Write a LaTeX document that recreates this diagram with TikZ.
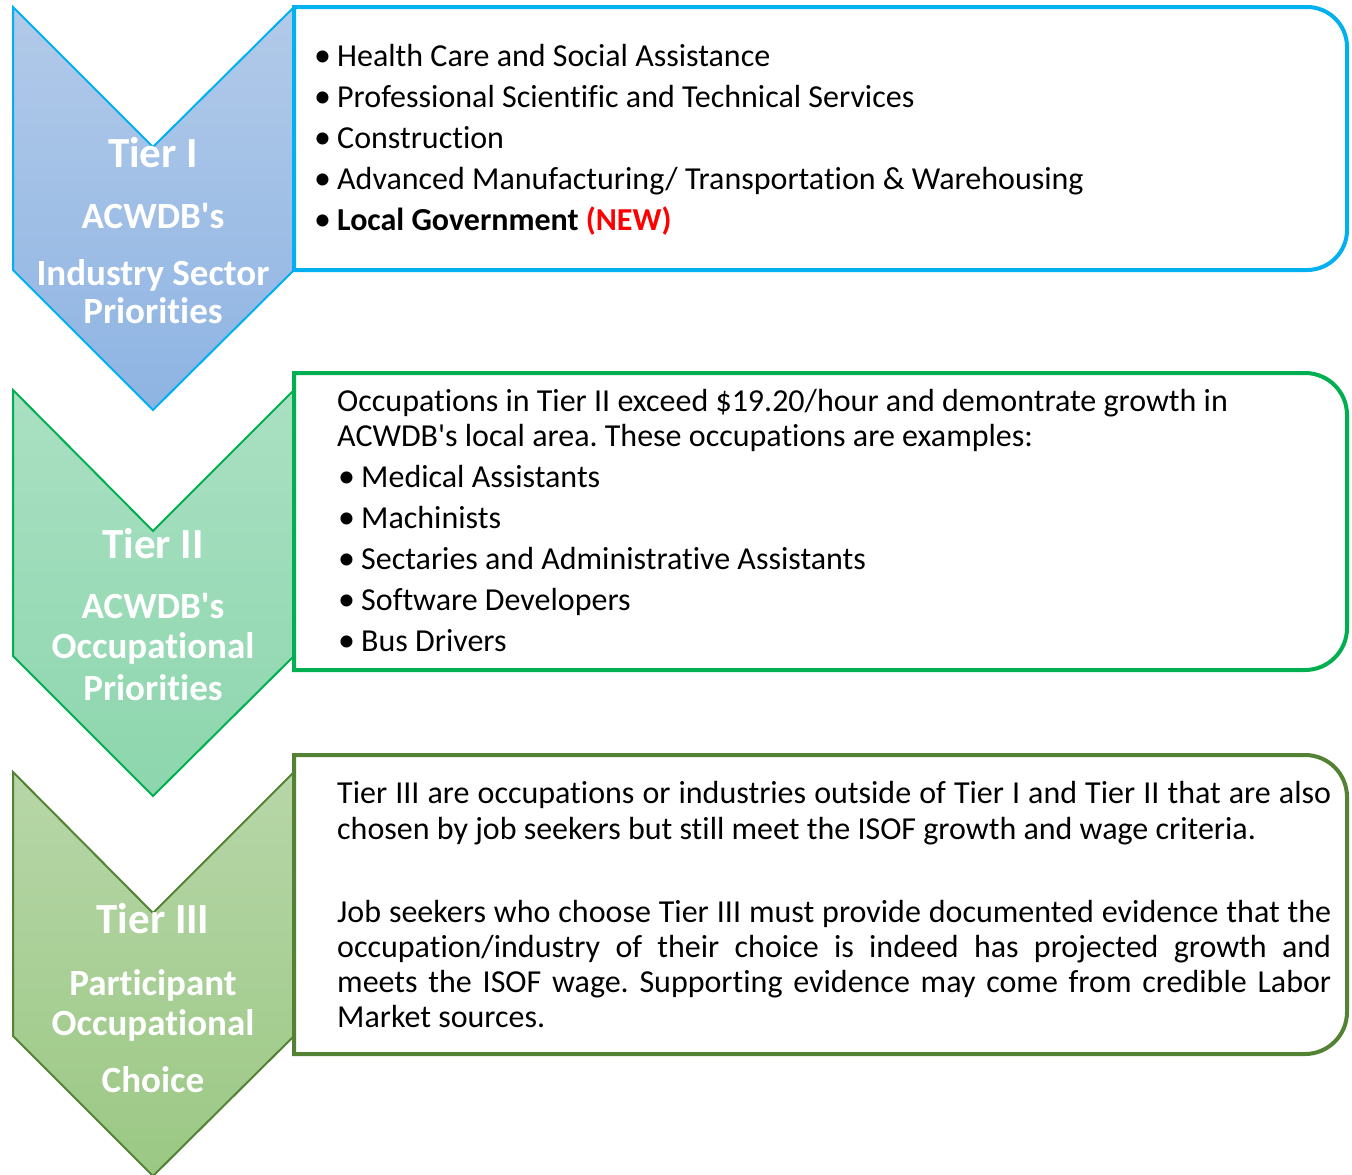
\documentclass[tikz,border=0pt]{standalone}
\usepackage{fontspec}
\setmainfont{Carlito}[Ligatures=NoCommon]

\definecolor{oneline}{HTML}{00B0F0}
\definecolor{onetop}{HTML}{B2CAE9}
\definecolor{onebottom}{HTML}{8EB4E3}
\definecolor{twoline}{HTML}{00B050}
\definecolor{twotop}{HTML}{AAE0C3}
\definecolor{twobottom}{HTML}{8CD6AD}
\definecolor{threeline}{HTML}{548235}
\definecolor{threetop}{HTML}{B7D6A8}
\definecolor{threebottom}{HTML}{9BC884}
\definecolor{newred}{HTML}{FF0000}

\newcommand{\bodyfont}{\fontsize{32}{38}\selectfont\frenchspacing}
\newcommand{\headfont}{\fontsize{43}{50}\selectfont\bfseries}
\newcommand{\subfont}{\fontsize{37}{42}\selectfont\bfseries}
\newcommand{\bull}{\makebox[23pt][l]{\raisebox{-0.5pt}{\fontsize{34}{34}\selectfont\textbullet}}}

\tikzset{
  chevron/.style={line width=2pt, line join=miter},
  tierbox/.style={line width=4pt, fill=white},
  bodytext/.style={anchor=base west, inner sep=0pt, font=\bodyfont},
  headtext/.style={anchor=base, inner sep=0pt, text=white, font=\headfont},
  subtext/.style={anchor=base, inner sep=0pt, text=white, font=\subfont}
}

\begin{document}
\begin{tikzpicture}[x=1pt, y=1pt]
    \useasboundingbox[fill=white] (0,0) rectangle (1352,-1175);

    % chevrons
    \draw[chevron, draw=oneline, top color=onetop, bottom color=onebottom]
        (13,-7) -- (153,-147) -- (294,-7) -- (294,-270) -- (153,-410) -- (13,-270) -- cycle;
    \draw[chevron, draw=twoline, top color=twotop, bottom color=twobottom]
        (13,-390) -- (153,-531) -- (294,-390) -- (294,-656) -- (153,-796) -- (13,-656) -- cycle;
    \draw[chevron, draw=threeline, top color=threetop, bottom color=threebottom]
        (13,-772) -- (153,-913) -- (294,-772) -- (294,-1036) -- (153,-1176) -- (13,-1036) -- cycle;

    % boxes
    \draw[tierbox, draw=oneline] (294,-7) -- (1307,-7) arc[start angle=90, end angle=0, radius=40]
        -- (1347,-230) arc[start angle=0, end angle=-90, radius=40] -- (294,-270) -- cycle;
    \draw[tierbox, draw=twoline] (294,-373) -- (1305,-373) arc[start angle=90, end angle=0, radius=42]
        -- (1347,-628) arc[start angle=0, end angle=-90, radius=42] -- (294,-670) -- cycle;
    \draw[tierbox, draw=threeline] (294,-755) -- (1305,-755) arc[start angle=90, end angle=0, radius=42]
        -- (1347,-1012) arc[start angle=0, end angle=-90, radius=42] -- (294,-1054) -- cycle;

    % chevron labels
    \node[headtext] (onehead) at (153,-167) {Tier I};
    \node[subtext] (onesub1) at (153,-228) {ACWDB\textquotesingle s};
    \node[subtext] (onesub2) at (153,-285) {Industry Sector};
    \node[subtext] (onesub3) at (153,-323) {Priorities};

    \node[headtext] (twohead) at (153,-558) {Tier II};
    \node[subtext] (twosub1) at (153,-618) {ACWDB\textquotesingle s};
    \node[subtext] (twosub2) at (153,-658) {Occupational};
    \node[subtext] (twosub3) at (153,-700) {Priorities};

    \node[headtext] (threehead) at (153,-933) {Tier III};
    \node[subtext] (threesub1) at (153,-995) {Participant};
    \node[subtext] (threesub2) at (153,-1035) {Occupational};
    \node[subtext] (threesub3) at (153,-1092) {Choice};

    % tier I list
    \foreach \txt [count=\i] in {Health Care and Social Assistance,
        Professional Scientific and Technical Services, Construction,
        Advanced Manufacturing/ Transportation \& Warehousing}
        \node[bodytext] (oneitem\i) at (314,{-66-41*(\i-1)}) {\bull\txt};
    \node[bodytext] (oneitem5) at (314,-230) {\bull\textbf{Local Government \textcolor{newred}{(NEW)}}};

    % tier II text
    \node[bodytext] (twoline1) at (337,-411) {Occupations in Tier II exceed \$19.20/hour and demontrate growth in};
    \node[bodytext] (twoline2) at (337,-446) {ACWDB\textquotesingle s local area. These occupations are examples:};
    \foreach \txt [count=\i] in {Medical Assistants, Machinists,
        Sectaries and Administrative Assistants, Software Developers, Bus Drivers}
        \node[bodytext] (twoitem\i) at (338,{-487-41*(\i-1)}) {\bull\txt};

    % tier III text
    \node[bodytext] (threeline1) at (337,-803) {\makebox[994pt][s]{Tier III are occupations or industries outside of Tier I and Tier II that are also}};
    \node[bodytext] (threeline2) at (337,-839) {chosen by job seekers but still meet the ISOF growth and wage criteria.};
    \node[bodytext] (threeline3) at (337,-922) {\makebox[994pt][s]{Job seekers who choose Tier III must provide documented evidence that the}};
    \node[bodytext] (threeline4) at (337,-957) {\makebox[994pt][s]{occupation/industry of their choice is indeed has projected growth and}};
    \node[bodytext] (threeline5) at (337,-992) {\makebox[994pt][s]{meets the ISOF wage. Supporting evidence may come from credible Labor}};
    \node[bodytext] (threeline6) at (337,-1027) {Market sources.};
\end{tikzpicture}
\end{document}
